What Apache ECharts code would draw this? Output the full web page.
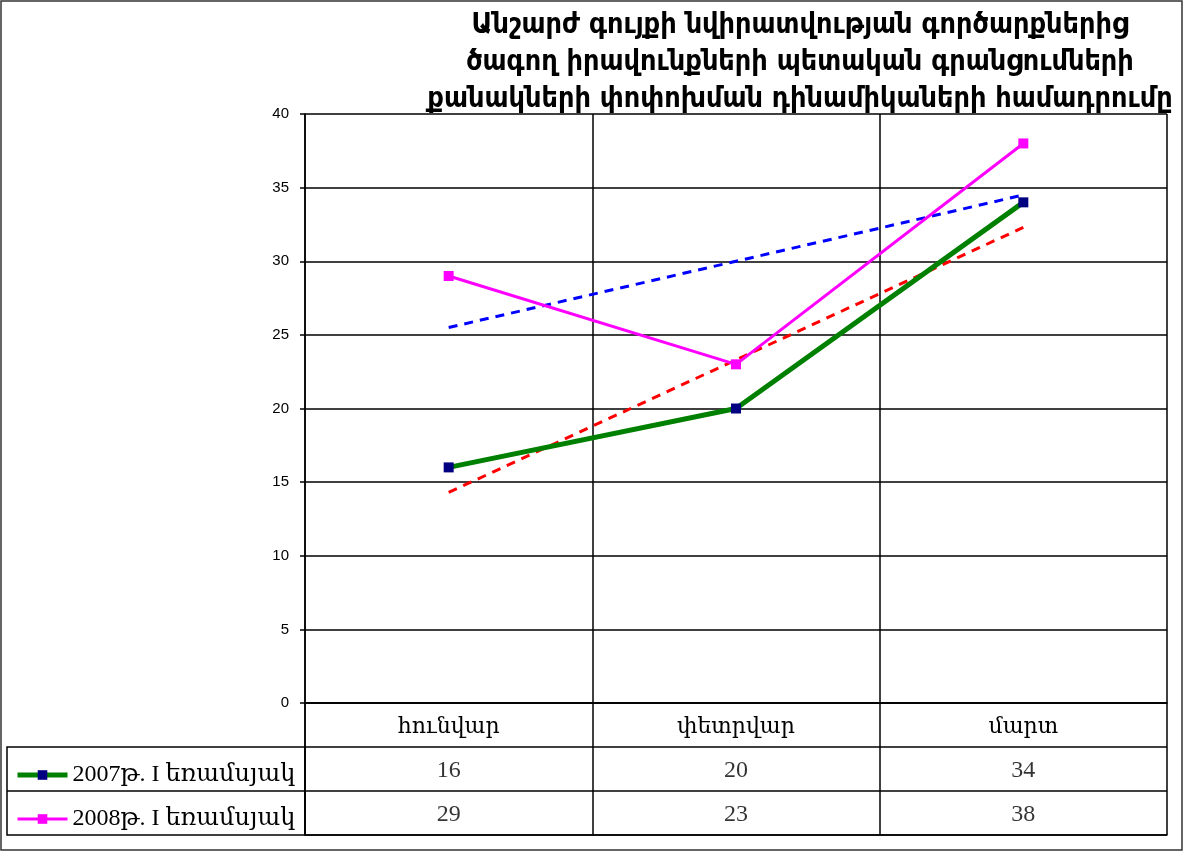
<!DOCTYPE html>
<html><head><meta charset="utf-8">
<script src="https://cdn.jsdelivr.net/npm/echarts@6/dist/echarts.min.js"></script>
<style>html,body{margin:0;padding:0;background:#fff}#c{width:1184px;height:852px}</style>
</head><body><div id="c"></div>
<script>
const titleLines = [
  'Անշարժ գույքի նվիրատվության գործարքներից',
  'ծագող իրավունքների պետական գրանցումների',
  'քանակների փոփոխման դինամիկաների համադրումը'
];
const categories = ['հունվար', 'փետրվար', 'մարտ'];
const seriesNames = ['2007թ. I եռամսյակ', '2008թ. I եռամսյակ'];
const values2007 = [16, 20, 34];
const values2008 = [29, 23, 38];
const trend2007 = [14.3, 23.3, 32.3];
const trend2008 = [25.5, 30, 34.5];
const yMin = 0, yMax = 40, yStep = 5;

const serif = '"Liberation Serif", "DejaVu Serif", serif';
const sans = '"Liberation Sans", Arial, sans-serif';
const black = '#000';

const tableRows = [''].concat(seriesNames);
const cellData = [];
values2007.forEach((v, i) => cellData.push([i, 1, v]));
values2008.forEach((v, i) => cellData.push([i, 2, v]));

const chart = echarts.init(document.getElementById('c'), null, {renderer: 'canvas'});
chart.setOption({
  backgroundColor: '#fff',
  animation: false,
  title: {
    text: titleLines.join('\n'),
    left: 795, top: 2, textAlign: 'center',
    textStyle: {fontFamily: '"DejaVu Sans Condensed", "DejaVu Sans", sans-serif', fontWeight: 'bold', fontSize: 28.5, lineHeight: 37, color: black}
  },
  legend: {
    data: [
      {name: seriesNames[0], lineStyle: {width: 5, color: '#008000'}, itemStyle: {color: '#000080'}},
      {name: seriesNames[1], lineStyle: {width: 3, color: '#FF00FF'}, itemStyle: {color: '#FF00FF'}}
    ],
    orient: 'vertical', left: 10, top: 758,
    itemWidth: 50, itemHeight: 12, itemGap: 20, selectedMode: false,
    textStyle: {fontFamily: serif, fontSize: 24, color: black}
  },
  grid: [
    {left: 305, right: 17, top: 114, bottom: 149},
    {left: 305, right: 17, top: 703, bottom: 17}
  ],
  xAxis: [
    {type: 'category', gridIndex: 0, data: categories, boundaryGap: true,
     axisLine: {lineStyle: {color: black, width: 1.5}}, axisTick: {show: false},
     axisLabel: {margin: 13, fontFamily: serif, fontSize: 22, color: black},
     splitLine: {show: true, lineStyle: {color: black, width: 1.5}}},
    {type: 'category', gridIndex: 1, data: categories, boundaryGap: true,
     axisLine: {lineStyle: {color: black, width: 1.5}}, axisTick: {show: false}, axisLabel: {show: false},
     splitLine: {show: true, lineStyle: {color: black, width: 1.5}}}
  ],
  yAxis: [
    {type: 'value', gridIndex: 0, min: yMin, max: yMax, interval: yStep,
     axisLine: {show: true, lineStyle: {color: black, width: 1.5}},
     axisTick: {show: true, length: 5, lineStyle: {color: black, width: 1.5}},
     axisLabel: {margin: 16, fontFamily: sans, fontSize: 15, color: black},
     splitLine: {show: true, lineStyle: {color: black, width: 1.5}}},
    {type: 'category', gridIndex: 1, data: tableRows, inverse: true, boundaryGap: true,
     axisLine: {show: true, lineStyle: {color: black, width: 1.5}}, axisTick: {show: false}, axisLabel: {show: false},
     splitLine: {show: true, lineStyle: {color: black, width: 1.5}}}
  ],
  series: [
    {name: seriesNames[0], type: 'line', data: values2007, xAxisIndex: 0, yAxisIndex: 0,
     symbol: 'rect', symbolSize: 10, lineStyle: {color: '#008000', width: 5},
     itemStyle: {color: '#000080', borderWidth: 0}, z: 4},
    {name: seriesNames[1], type: 'line', data: values2008, xAxisIndex: 0, yAxisIndex: 0,
     symbol: 'rect', symbolSize: 10, lineStyle: {color: '#FF00FF', width: 3},
     itemStyle: {color: '#FF00FF', borderWidth: 0}, z: 4},
    {name: 'trend2007', type: 'line', data: trend2007, symbol: 'none',
     lineStyle: {color: '#FF0000', width: 3, type: [9, 7]}, z: 3},
    {name: 'trend2008', type: 'line', data: trend2008, symbol: 'none',
     lineStyle: {color: '#0000FF', width: 3, type: [9, 7]}, z: 3},
    {name: 'table', type: 'scatter', xAxisIndex: 1, yAxisIndex: 1, data: cellData,
     symbolSize: 0, silent: true,
     label: {show: true, position: 'inside', offset: [0, 2], formatter: p => String(p.value[2]),
             fontFamily: serif, fontSize: 24, color: black}}
  ],
  graphic: [
    {type: 'rect', shape: {x: 1, y: 1, width: 1181, height: 849}, style: {fill: 'none', stroke: '#333', lineWidth: 1.5}, silent: true},
    {type: 'rect', shape: {x: 7, y: 747, width: 298, height: 88}, style: {fill: 'none', stroke: black, lineWidth: 1.5}, silent: true},
    {type: 'line', shape: {x1: 7, y1: 791, x2: 305, y2: 791}, style: {stroke: black, lineWidth: 1.5}, silent: true}
  ]
});
</script>
</body></html>
